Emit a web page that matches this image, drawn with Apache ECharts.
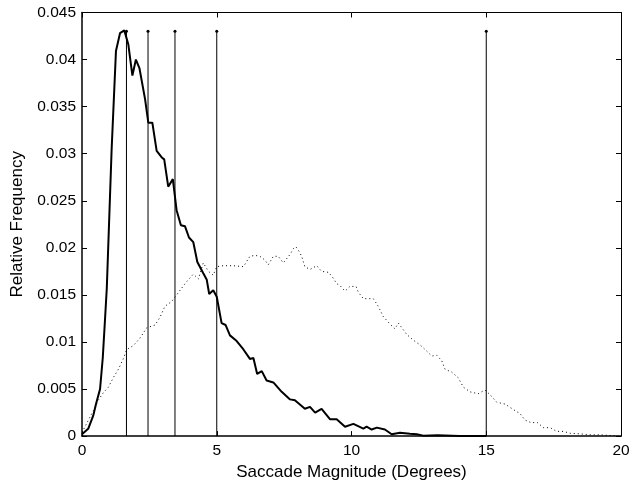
<!DOCTYPE html>
<html>
<head>
<meta charset="utf-8">
<script src="https://cdn.jsdelivr.net/npm/echarts@6/dist/echarts.min.js"></script>
<style>html,body{margin:0;padding:0;background:#fff}#c{width:634px;height:486px}</style>
</head>
<body>
<div id="c"></div>
<script>
// Solid curve (x in degrees, relative frequency)
const solidX = [0, 0.07, 0.23, 0.42, 0.52, 0.67, 0.77, 0.85, 0.92, 1.10, 1.26, 1.41, 1.57, 1.63, 1.72, 1.87, 2.00, 2.13, 2.34, 2.46, 2.61, 2.77, 2.96, 3.05, 3.20, 3.37, 3.51, 3.67, 3.82, 3.97, 4.13, 4.28, 4.50, 4.63, 4.72, 4.87, 5.00, 5.18, 5.33, 5.49, 5.74, 5.99, 6.23, 6.36, 6.50, 6.67, 6.85, 7.10, 7.41, 7.72, 7.90, 8.27, 8.46, 8.65, 8.89, 9.20, 9.45, 9.76, 10.07, 10.44, 10.56, 10.75, 10.94, 11.24, 11.49, 11.80, 12.17, 12.42, 12.66, 13.2, 14.0, 15.0];
const solidY = [0.0002, 0.00035, 0.00077, 0.0022, 0.0034, 0.0050, 0.0083, 0.0122, 0.0157, 0.0305, 0.0409, 0.0428, 0.0431, 0.0431, 0.0416, 0.0383, 0.0400, 0.0391, 0.0358, 0.0333, 0.0333, 0.0303, 0.0296, 0.0294, 0.0265, 0.0273, 0.0240, 0.0224, 0.0223, 0.0211, 0.0206, 0.0185, 0.0173, 0.0166, 0.0151, 0.0155, 0.0148, 0.0120, 0.0118, 0.0107, 0.0101, 0.0092, 0.0082, 0.0083, 0.0066, 0.0069, 0.0059, 0.0057, 0.0047, 0.0039, 0.0038, 0.0029, 0.0031, 0.0025, 0.0029, 0.0018, 0.0018, 0.0010, 0.0013, 0.0008, 0.0010, 0.0007, 0.0009, 0.0007, 0.0002, 0.00035, 0.00025, 0.0002, 0.00005, 0.0001, 0.00002, 0];

// Dotted curve
const dottedX = [0.07, 0.23, 0.42, 0.60, 0.79, 0.98, 1.16, 1.35, 1.53, 1.66, 1.90, 2.15, 2.40, 2.71, 2.89, 3.08, 3.33, 3.64, 3.88, 4.13, 4.32, 4.50, 4.69, 4.87, 5.00, 5.24, 5.61, 5.99, 6.23, 6.42, 6.60, 6.79, 6.91, 7.10, 7.28, 7.47, 7.72, 7.84, 7.94, 8.06, 8.15, 8.27, 8.46, 8.71, 8.89, 9.14, 9.27, 9.45, 9.57, 9.76, 9.94, 10.17, 10.25, 10.44, 10.62, 10.81, 10.99, 11.18, 11.43, 11.61, 11.74, 12.05, 12.29, 12.54, 12.73, 12.98, 13.16, 13.35, 13.47, 13.72, 13.96, 14.15, 14.40, 14.70, 14.95, 15.14, 15.39, 15.70, 16.07, 16.25, 16.44, 16.69, 16.87, 17.12, 17.37, 17.61, 17.86, 18.11, 18.48, 18.85, 19.22, 19.59, 19.90];
const dottedY = [0.00077, 0.00166, 0.0027, 0.0038, 0.0046, 0.0052, 0.0062, 0.0071, 0.0082, 0.0092, 0.0096, 0.0104, 0.0115, 0.0118, 0.0126, 0.0138, 0.0143, 0.0155, 0.0164, 0.0172, 0.0167, 0.0184, 0.0175, 0.0171, 0.0180, 0.0181, 0.0181, 0.0180, 0.0191, 0.0192, 0.0191, 0.0187, 0.0182, 0.0191, 0.0191, 0.0184, 0.0193, 0.0199, 0.0201, 0.0196, 0.0191, 0.0180, 0.0177, 0.0181, 0.0175, 0.0174, 0.0170, 0.0162, 0.0160, 0.0154, 0.0159, 0.0159, 0.0153, 0.0146, 0.0146, 0.0146, 0.0138, 0.0127, 0.0119, 0.0114, 0.0120, 0.0108, 0.0102, 0.0097, 0.0092, 0.0085, 0.0086, 0.0080, 0.0071, 0.0068, 0.0062, 0.0052, 0.0047, 0.0045, 0.0049, 0.0044, 0.0036, 0.0034, 0.0027, 0.0024, 0.0017, 0.0014, 0.0015, 0.0009, 0.0009, 0.0005, 0.0005, 0.0003, 0.00024, 0.00014, 0.00014, 0.00007, 0.0];

// Vertical reference lines
const refX = [1.65, 2.45, 3.45, 5, 15];
const refTop = 0.043;

const xTicks = [0, 5, 10, 15, 20];
const yTicks = [0, 0.005, 0.01, 0.015, 0.02, 0.025, 0.03, 0.035, 0.04, 0.045];

const FONT = 'Liberation Sans, Arial, sans-serif';
const zip = (xs, ys) => xs.map((x, i) => [x, ys[i]]);

const chart = echarts.init(document.getElementById('c'), null, {renderer: 'canvas'});
const axisCommon = {
  axisLine: {show: true, onZero: false, lineStyle: {color: '#000', width: 1}},
  axisTick: {show: true, inside: true, length: 5, lineStyle: {color: '#000', width: 1}},
  splitLine: {show: false}
};
chart.setOption({
  animation: false,
  backgroundColor: '#fff',
  grid: {left: 82, right: 13, top: 12.5, bottom: 47, containLabel: false},
  xAxis: [
    Object.assign({}, axisCommon, {
      type: 'value', position: 'bottom', min: xTicks[0], max: xTicks[xTicks.length - 1], interval: 5,
      axisLine: {show: true, onZero: false, lineStyle: {color: '#000', width: 1.5}},
      axisLabel: {color: '#000', fontFamily: FONT, fontSize: 15.5, margin: 7},
      name: 'Saccade Magnitude (Degrees)', nameLocation: 'middle', nameGap: 22,
      nameTextStyle: {color: '#000', fontFamily: FONT, fontSize: 17}
    }),
    Object.assign({}, axisCommon, {
      type: 'value', position: 'top', min: 0, max: 20, interval: 5,
      axisLabel: {show: false}
    })
  ],
  yAxis: [
    Object.assign({}, axisCommon, {
      type: 'value', position: 'left', min: yTicks[0], max: yTicks[yTicks.length - 1], interval: 0.005,
      axisLine: {show: true, onZero: false, lineStyle: {color: '#000', width: 1.5}},
      axisLabel: {color: '#000', fontFamily: FONT, fontSize: 15.5, margin: 6,
        formatter: v => String(parseFloat(v.toFixed(3)))},
      name: 'Relative Frequency', nameLocation: 'middle', nameGap: 51,
      nameTextStyle: {color: '#000', fontFamily: FONT, fontSize: 17}
    }),
    Object.assign({}, axisCommon, {
      type: 'value', position: 'right', min: 0, max: 0.045, interval: 0.005,
      axisLabel: {show: false}
    })
  ],
  series: [
    {
      type: 'line', name: 'dotted', data: zip(dottedX, dottedY), showSymbol: false, symbol: 'none',
      lineStyle: {color: '#000', width: 1, type: [1, 3]}, z: 2
    },
    {
      type: 'line', name: 'solid', data: zip(solidX, solidY), showSymbol: false, symbol: 'none',
      lineStyle: {color: '#000', width: 2}, z: 3
    },
    ...refX.map(x => ({
      type: 'line', symbol: 'circle', showAllSymbol: true,
      data: [{value: [x, 0], symbolSize: 0}, {value: [x, refTop], symbolSize: 3}],
      itemStyle: {color: '#000'},
      lineStyle: {color: '#000', width: 1}, z: 4
    }))
  ]
});
</script>
</body>
</html>
